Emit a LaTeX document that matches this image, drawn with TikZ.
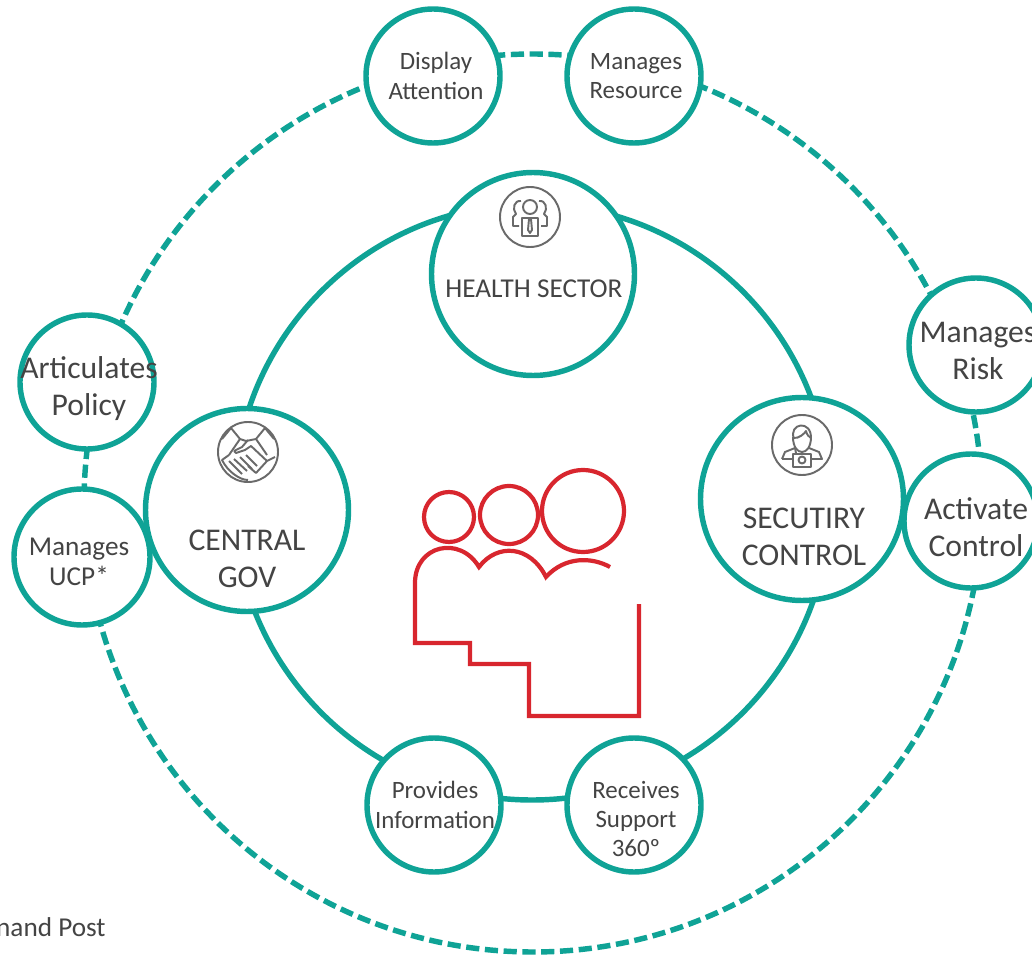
\documentclass[tikz,border=0pt]{standalone}
\usepackage{fontspec}
\usepackage{xcolor}
\setmainfont{Carlito}
\usetikzlibrary{positioning, calc}
\definecolor{ringteal}{HTML}{0FA396}
\definecolor{peoplered}{HTML}{D8262E}
\definecolor{icongray}{HTML}{6A6A6A}
\definecolor{labelgray}{HTML}{444444}
\tikzset{
    solidring/.style={circle, draw=ringteal, line width=3.1pt, inner sep=0pt},
    dashring/.style={solidring, dash pattern=on 7.5pt off 3.2pt},
    bubble/.style={solidring, fill=white, minimum size=134*0.02cm},
    bigbubble/.style={solidring, fill=white, minimum size=203*0.02cm},
    smalltxt/.style={align=center, text=labelgray, font=\fontsize{14.2}{16.6}\selectfont},
    bigtxt/.style={align=center, text=labelgray, font=\fontsize{18}{21}\selectfont},
    people/.style={draw=peoplered, line width=2.4pt, line join=miter},
    iconline/.style={draw=icongray, line width=1.1pt, line join=round},
}

\begin{document}
\begin{tikzpicture}[x=0.02cm, y=-0.02cm]
    \useasboundingbox (0, 0) rectangle (1032, 956);
    \clip (0, 0) rectangle (1032, 956);

    % rings
    \node[dashring, minimum size=898*0.02cm] (outerring) at (533, 503) {};
    \node[solidring, minimum size=596*0.02cm] (innerring) at (532, 502) {};

    % outer bubbles
    \node[bubble] (disp) at (433, 76) {};
    \node[bubble] (res) at (634, 76) {};
    \node[bubble] (risk) at (976, 345) {};
    \node[bubble] (pol) at (87, 382) {};
    \node[bubble, minimum size=136*0.02cm] (ucp) at (82, 557) {};
    \node[bubble] (ctrl) at (971, 521) {};
    \node[bubble] (info) at (434, 805) {};
    \node[bubble] (supp) at (634, 805) {};

    % sectors
    \node[bigbubble] (health) at (533, 274) {};
    \node[bigbubble] (gov) at (247, 510) {};
    \node[bigbubble] (sec) at (802, 499) {};

    % labels
    \node[smalltxt] (disptxt) at (436, 76) {Display\\Attention};
    \node[smalltxt] (restxt) at (636, 76) {Manages\\Resource};
    \node[bigtxt] (risktxt) at (978, 351) {Manages\\Risk};
    \node[bigtxt] (poltxt) at (89, 389) {Articulates\\Policy};
    \node[smalltxt, font=\fontsize{15.5}{17}\selectfont] (ucptxt) at (79, 562) {Manages\\UCP*};
    \node[bigtxt] (ctrltxt) at (976, 527) {Activate\\Control};
    \node[smalltxt] (infotxt) at (435, 805) {Provides\\Information};
    \node[smalltxt] (supptxt) at (636, 819) {Receives\\Support\\360º};
    \node[smalltxt, font=\fontsize{15.5}{17}\selectfont] (healthtxt) at (534, 289) {HEALTH SECTOR};
    \node[bigtxt] (govtxt) at (247, 559) {CENTRAL\\GOV};
    \node[bigtxt] (sectxt) at (804, 537) {SECUTIRY\\CONTROL};
    \node[smalltxt, anchor=base east, inner sep=0pt, font=\fontsize{15.5}{17}\selectfont] (posttxt) at (106, 936) {nand Post};

    % people in the middle
    \node[people, circle, inner sep=0pt, minimum size=50*0.02cm] (headone) at (449, 517) {};
    \node[people, circle, inner sep=0pt, minimum size=58*0.02cm] (headtwo) at (509, 515) {};
    \node[people, circle, inner sep=0pt, minimum size=82*0.02cm] (headthree) at (583, 511) {};
    \draw[people] (610, 567) .. controls (592, 557) and (565, 556) .. (546, 577)
        .. controls (530, 545) and (497, 543) .. (479, 567)
        .. controls (460, 535) and (415, 545) .. (415, 583)
        -- (415, 643) -- (470, 643) -- (470, 664) -- (529, 664) -- (529, 716) -- (639, 716) -- (639, 604);

    % health icon
    \begin{scope}[shift={(530, 217)}]
        \node[iconline, circle, inner sep=0pt, minimum size=60*0.02cm] (healthicon) at (0, 0) {};
        \node[iconline, circle, inner sep=0pt, minimum size=14*0.02cm] (healthhead) at (0, -10) {};
        \draw[iconline] (-8, 19) -- (-8, 1) -- (8, 1) -- (8, 19) -- cycle;
        \draw[iconline] (-1, 2) -- (-2, 13) -- (0, 16) -- (2, 13) -- (1, 2);
        \draw[iconline] (-11, 9) -- (-17, 9) -- (-17, 0) -- (-14, -3) .. controls (-18, -8) and (-16, -17) .. (-9, -16);
        \draw[iconline] (11, 9) -- (17, 9) -- (17, 0) -- (14, -3) .. controls (18, -8) and (16, -17) .. (9, -16);
    \end{scope}

    % handshake icon
    \begin{scope}[shift={(248, 452)}]
        \node[iconline, circle, inner sep=0pt, minimum size=60*0.02cm] (govicon) at (0, 0) {};
        \draw[iconline] (-26, -13) -- (-17, -24) (-19, 3) -- (-8, -13) -- (-17, -24);
        \draw[iconline] (26, -13) -- (17, -24) (19, 3) -- (8, -13) -- (17, -24);
        \draw[iconline] (-8, -13) -- (-2, -11) -- (8, -13);
        \draw[iconline] (-14, -1) -- (-6, -5) -- (0, -12) (-14, -1) -- (-12, 1) -- (-3, -2) -- (3, -6) -- (19, 9) -- (8, 21) -- (0, 14);
        \draw[iconline] (-19, 3) -- (-26, 8) .. controls (-20, 20) and (-8, 28) .. (0, 28);
        \draw[iconline] (-19, 9) -- (-6, 22) (-14, 7) -- (-1, 19) (-8, 5) -- (4, 17) (-2, 3) -- (9, 14);
        \draw[iconline] (19, 9) -- (27, 5);
    \end{scope}

    % camera man icon
    \begin{scope}[shift={(802, 445)}]
        \node[iconline, circle, inner sep=0pt, minimum size=60*0.02cm] (secicon) at (0, 0) {};
        \draw[iconline] (-8, -6) .. controls (-14, -22) and (10, -26) .. (9, -6);
        \draw[iconline] (-9, -8) .. controls (-9, 12) and (9, 12) .. (9, -8);
        \draw[iconline] (-9, -7) .. controls (-3, -6) and (3, -12) .. (4, -14) .. controls (5, -10) and (7, -8) .. (9, -7);
        \draw[iconline] (-20, 14) -- (-17, 7) -- (-7, 3) -- (-6, 8) (7, 3) -- (17, 7) -- (20, 14) -- (9, 14) (-20, 14) -- (-9, 14);
        \draw[iconline] (-9, 9) -- (9, 9) -- (9, 22) -- (-9, 22) -- cycle;
        \node[iconline, circle, inner sep=0pt, minimum size=7*0.02cm] (seclens) at (0, 15) {};
    \end{scope}
\end{tikzpicture}
\end{document}
